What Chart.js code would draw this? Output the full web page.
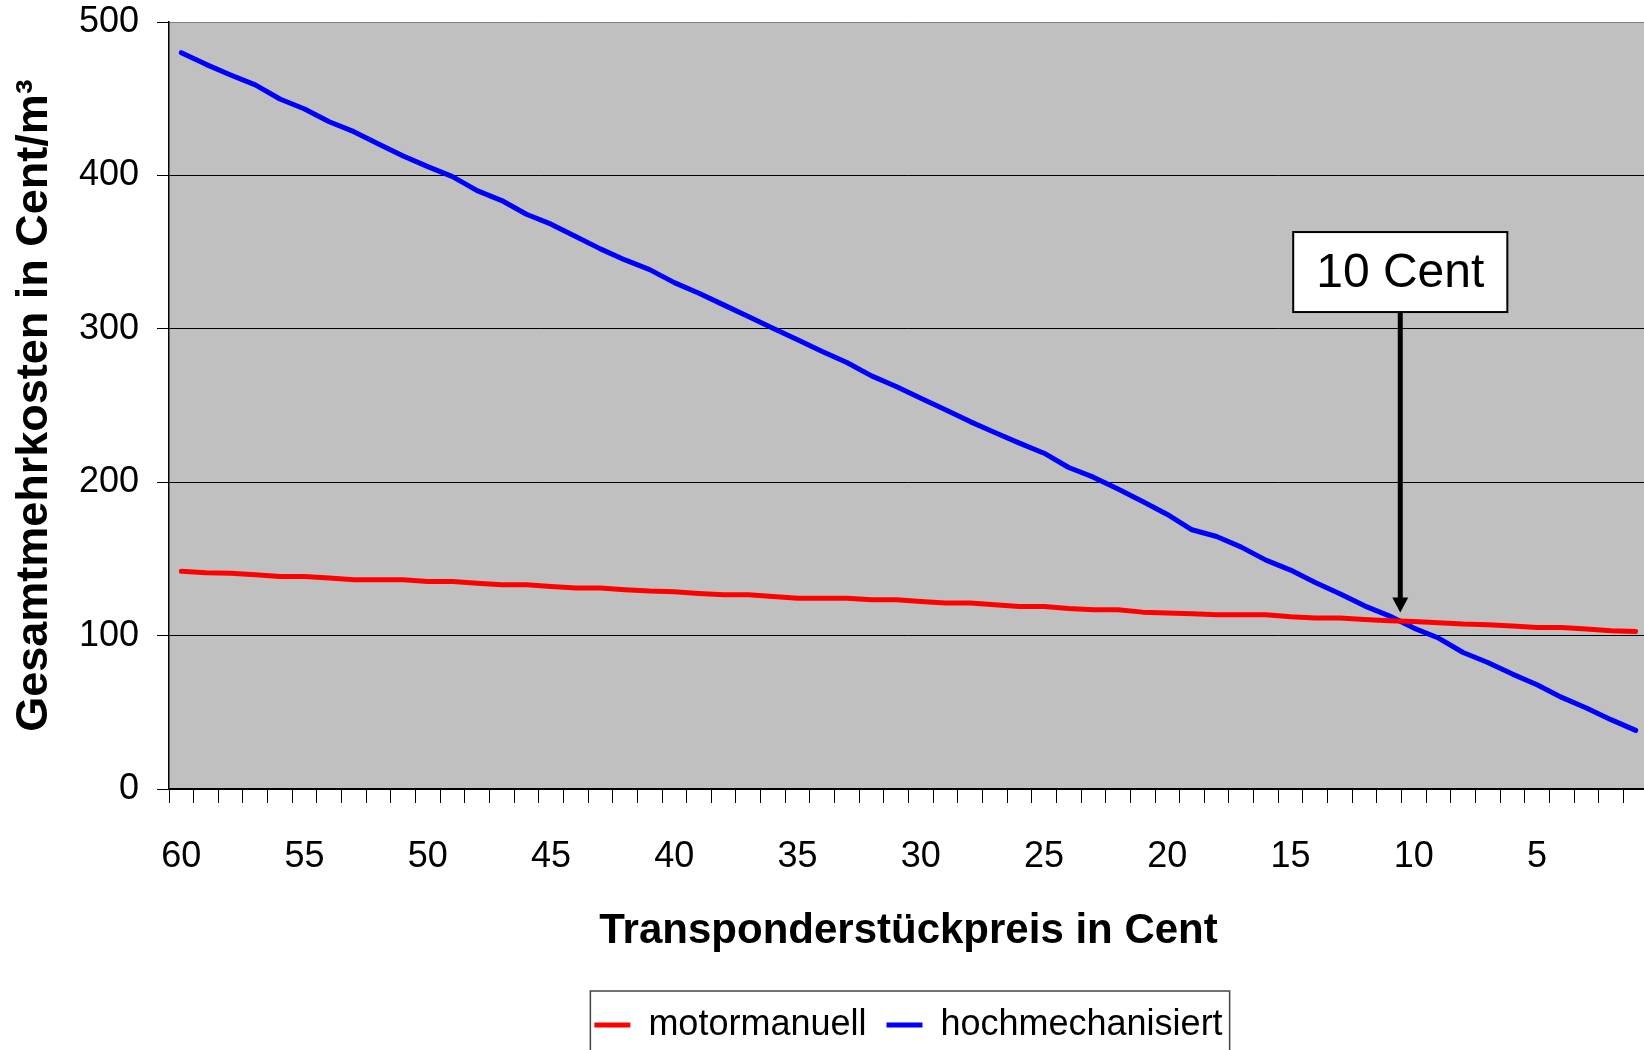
<!DOCTYPE html>
<html>
<head>
<meta charset="utf-8">
<script src="https://cdn.jsdelivr.net/npm/chart.js@4.4.1/dist/chart.umd.min.js"></script>
<style>
  html,body{margin:0;padding:0;background:#fff;overflow:hidden}
  #wrap{width:1650px;height:1050px}
</style>
</head>
<body>
<div id="wrap"><canvas id="chart" width="1650" height="1050"></canvas></div>
<script>
/* ============================================================
   Gesamtmehrkosten vs. Transponderstückpreis
============================================================ */
const preise = [60,59,58,57,56,55,54,53,52,51,50,49,48,47,46,45,44,43,42,41,
                40,39,38,37,36,35,34,33,32,31,30,29,28,27,26,25,24,23,22,21,
                20,19,18,17,16,15,14,13,12,11,10,9,8,7,6,5,4,3,2,1];
const xTickLabels = [60,55,50,45,40,35,30,25,20,15,10,5];
const yTicks      = [0,100,200,300,400,500];

const motormanuell = [142,141,140.7,139.6,138.5,138.5,137.5,136.4,136.4,136.4,
                      135.3,135.3,134.2,133.1,133.1,132,131,131,129.9,129,
                      128.6,127.5,126.6,126.6,125.5,124.4,124.4,124.4,123.4,123.4,
                      122.3,121.2,121.2,120.1,119,119,117.7,116.8,116.8,115.3,
                      114.7,114.2,113.6,113.6,113.6,112.3,111.4,111.4,110.5,109.7,
                      109.2,108.4,107.5,107.1,106.2,105.3,105.3,104.3,103.2,102.7];
const hochmechanisiert = [480,472.4,465.5,459,449.8,443.3,435,428.5,420.5,412.7,
                          405.7,399.2,390.1,383.6,374.7,368.2,360.1,352.1,344.9,338.6,
                          330.1,323.2,315.6,308,300.4,292.8,285.2,278,269.3,262.4,
                          254.8,247.2,239.5,232.4,225.5,218.9,209.6,203.3,195.5,187.4,
                          179,169,164.6,157.7,149.2,142.7,134.6,127.3,119.4,112.9,
                          104.9,98.4,89,82.5,74.9,68,59.7,52.8,45.2,38.2];

// Hinweis "10 Cent": Position in Cent, Pfeilspitze und Kastenmitte in Cent/m³
const callout = { text:'10 Cent', cent:10.55, tip:115, box:337 };

const FONT = "'Liberation Sans', Arial, sans-serif";

const plotBg = {
  id:'plotBg',
  beforeDraw(chart){
    const {ctx, chartArea:a} = chart;
    ctx.save();
    ctx.fillStyle = '#C0C0C0';
    ctx.fillRect(a.left, a.top, a.right-a.left, a.bottom-a.top);
    ctx.restore();
  }
};

const calloutPlugin = {
  id:'callout',
  afterDatasetsDraw(chart){
    const {ctx, scales:{x, y}} = chart;
    const px = x.getPixelForValue(60 - callout.cent);
    const tipY = y.getPixelForValue(callout.tip);
    const cy = y.getPixelForValue(callout.box);
    ctx.save();
    ctx.font = `48px ${FONT}`;
    const tw = ctx.measureText(callout.text).width;
    const bw = tw + 46, bh = 80;
    const bx = px - bw/2, by = cy - bh/2;
    // Pfeil
    ctx.strokeStyle = '#000'; ctx.fillStyle = '#000';
    ctx.lineWidth = 5;
    ctx.beginPath(); ctx.moveTo(px, by+bh); ctx.lineTo(px, tipY-14); ctx.stroke();
    ctx.beginPath(); ctx.moveTo(px-8, tipY-15); ctx.lineTo(px+8, tipY-15); ctx.lineTo(px, tipY); ctx.closePath(); ctx.fill();
    // Kasten
    ctx.fillStyle = '#fff';
    ctx.fillRect(bx, by, bw, bh);
    ctx.lineWidth = 2;
    ctx.strokeRect(bx, by, bw, bh);
    ctx.fillStyle = '#000';
    ctx.textAlign = 'center'; ctx.textBaseline = 'middle';
    ctx.fillText(callout.text, px, cy+2);
    ctx.restore();
  }
};

const legendBorder = {
  id:'legendBorder',
  afterDraw(chart){
    const hb = chart.legend.legendHitBoxes;
    if(!hb || !hb.length) return;
    const left  = Math.min(...hb.map(h=>h.left)) - 4;
    const right = Math.max(...hb.map(h=>h.left+h.width)) + 7;
    const top   = hb[0].top + hb[0].height/2 - 34;
    const {ctx} = chart;
    ctx.save();
    ctx.strokeStyle = '#444'; ctx.lineWidth = 1.5;
    ctx.strokeRect(left, top, right-left, chart.height - top + 10);
    ctx.restore();
  }
};

new Chart(document.getElementById('chart'), {
  type:'line',
  data:{
    labels: preise,
    datasets:[
      { label:'motormanuell', data:motormanuell, borderColor:'#FF0000', borderWidth:5,
        pointRadius:0, tension:0, borderCapStyle:'round', borderJoinStyle:'round' },
      { label:'hochmechanisiert', data:hochmechanisiert, borderColor:'#0000FF', borderWidth:5,
        pointRadius:0, tension:0, borderCapStyle:'round', borderJoinStyle:'round' }
    ]
  },
  options:{
    responsive:false, animation:false,
    layout:{ padding:{ top:22, right:2, left:0, bottom:-3 } },
    plugins:{
      tooltip:{ enabled:false },
      legend:{
        position:'bottom', fullSize:false,
        labels:{
          color:'#000', boxWidth:36, boxHeight:5, padding:20,
          font:{ family:FONT, size:36 },
          generateLabels: chart => Chart.defaults.plugins.legend.labels.generateLabels(chart)
            .map(l => ({ ...l, fillStyle:l.strokeStyle, lineWidth:0 }))
        }
      }
    },
    scales:{
      x:{
        offset:true,
        afterFit(s){ s.height = 198; s.paddingLeft = 0; s.paddingRight = 0; },
        grid:{ offset:true, drawOnChartArea:false, color:'#000', tickLength:14 },
        border:{ color:'#000', width:1.5 },
        ticks:{
          autoSkip:false, maxRotation:0, padding:32, color:'#000',
          font:{ family:FONT, size:36 },
          callback(v){ const lab = this.getLabelForValue(v); return xTickLabels.includes(lab) ? String(lab) : ''; }
        },
        title:{ display:true, text:'Transponderstückpreis in Cent', color:'#000',
          font:{ family:FONT, size:42, weight:'bold' }, padding:{ top:0, bottom:30 } }
      },
      y:{
        min:0, max:500,
        afterFit(s){ s.width = 169; s.paddingTop = 0; s.paddingBottom = 0; },
        afterBuildTicks(s){ s.ticks = yTicks.map(v=>({value:v})); },
        grid:{ color:c => c.tick && c.tick.value===500 ? '#808080' : '#000', tickColor:'#000', tickLength:12 },
        border:{ color:'#000', width:1.5 },
        ticks:{ padding:18, color:'#000', font:{ family:FONT, size:36 } },
        title:{ display:true, text:'Gesamtmehrkosten in Cent/m³', color:'#000',
          font:{ family:FONT, size:45, weight:'bold' }, padding:{ top:8, bottom:0 } }
      }
    }
  },
  plugins:[plotBg, calloutPlugin, legendBorder]
});
</script>
</body>
</html>
